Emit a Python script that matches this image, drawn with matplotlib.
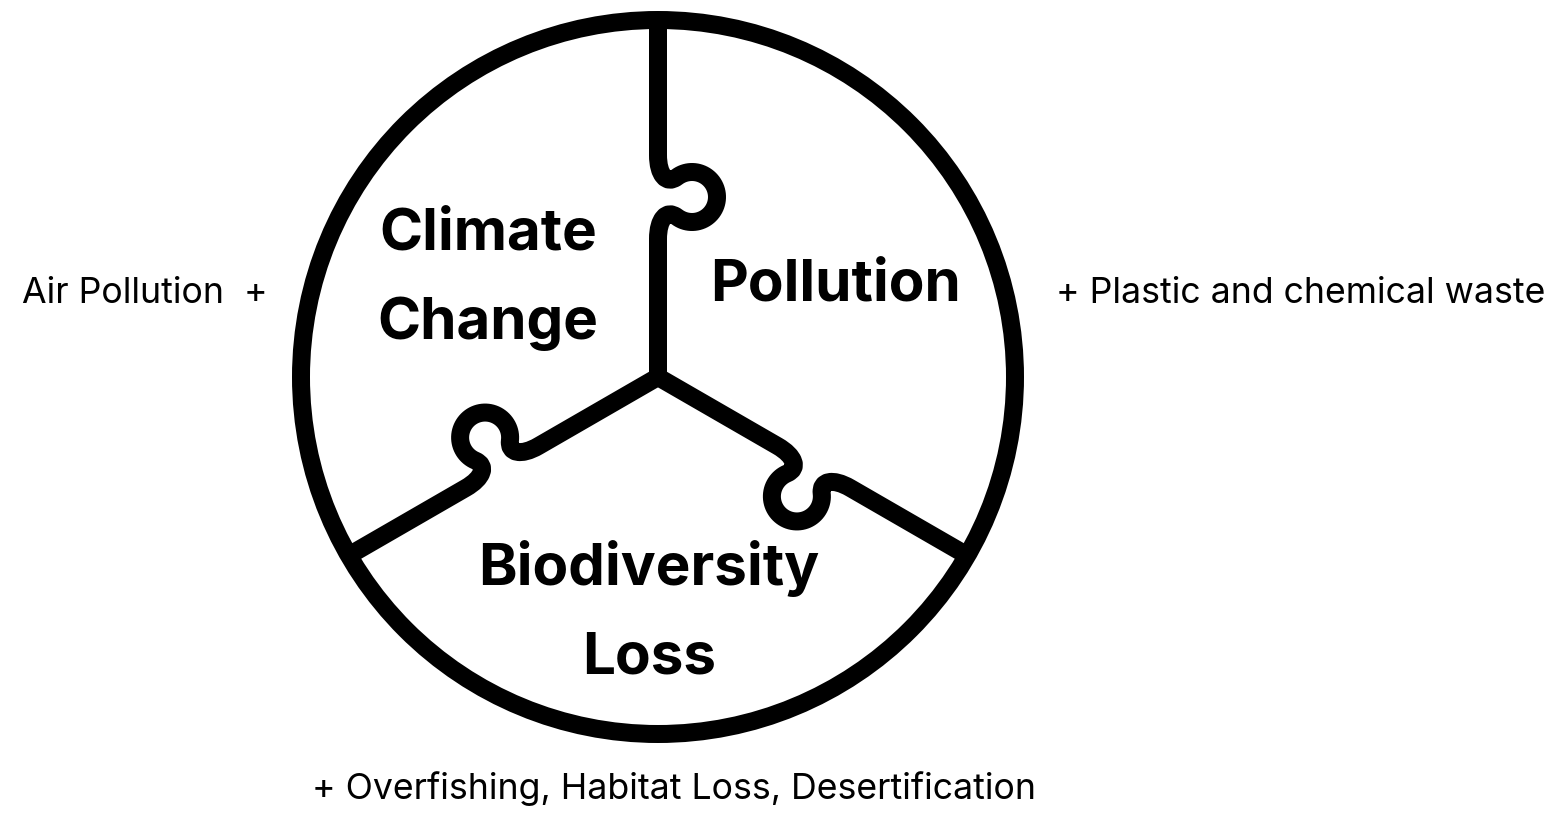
import numpy as np
import matplotlib.pyplot as plt
from matplotlib.path import Path
from matplotlib.patches import Circle, PathPatch

plt.rcParams['font.family'] = ['Inter', 'DejaVu Sans']

# puzzle pieces and what goes with them
piece_lines = [["Climate", "Change"], ["Pollution"], ["Biodiversity", "Loss"]]
side_notes = ["Air Pollution  +", "+ Plastic and chemical waste",
              "+ Overfishing, Habitat Loss, Desertification"]
divider_angles = [90, 210, 330]  # degrees, where the cuts run out from the centre

W, H = 1555, 817
cx, cy = 658, 440      # centre of the circle (y up)
R = 357                # radius
lw_px = 18
lw = lw_px * 72 / 100  # points

# knob geometry in local coords (u along the cut, v to the side)
uc, vc, r = 180, 34, 25
half = 20
vj = vc - np.sqrt(r**2 - half**2)


def cut_path(angle):
    a = np.deg2rad(angle)
    d = np.array([np.cos(a), np.sin(a)])
    p = np.array([d[1], -d[0]])
    c = np.array([cx, cy])

    def P(u, v):
        return c + u * d + v * p

    verts, codes = [], []
    verts.append(P(0, 0)); codes.append(Path.MOVETO)
    verts.append(P(uc - 42, 0)); codes.append(Path.LINETO)
    # into the neck
    j1 = np.array([uc - half, vj])
    rad = j1 - np.array([uc, vc])
    tang = np.array([rad[1], -rad[0]]) / r   # clockwise travel direction
    k = 13
    c2 = j1 - k * tang
    verts += [P(uc - 22, 0), P(*c2), P(*j1)]
    codes += [Path.CURVE4] * 3
    th0 = np.arctan2(rad[1], rad[0])
    j2 = np.array([uc + half, vj])
    rad2 = j2 - np.array([uc, vc])
    th1 = np.arctan2(rad2[1], rad2[0])
    if th1 > th0:
        th1 -= 2 * np.pi
    for t in np.linspace(th0, th1, 60)[1:]:
        verts.append(P(uc + r * np.cos(t), vc + r * np.sin(t)))
        codes.append(Path.LINETO)
    tang2 = np.array([rad2[1], -rad2[0]]) / r
    c3 = j2 + k * tang2
    verts += [P(*c3), P(uc + 22, 0), P(uc + 42, 0)]
    codes += [Path.CURVE4] * 3
    verts.append(P(R, 0)); codes.append(Path.LINETO)
    return Path(np.array(verts), codes)


fig = plt.figure(figsize=(W / 100, H / 100), dpi=100)
ax = fig.add_axes([0, 0, 1, 1])
ax.set_xlim(0, W)
ax.set_ylim(0, H)
ax.set_aspect('equal')
ax.axis('off')

ax.add_patch(Circle((cx, cy), R, fill=False, lw=lw, ec='black'))
for ang in divider_angles:
    ax.add_patch(PathPatch(cut_path(ang), fill=False, lw=lw, ec='black',
                           joinstyle='round', capstyle='butt'))

# piece labels
label_pos = [(488, [817 - 249, 817 - 339]), (836, [817 - 300]),
             (649, [817 - 585, 817 - 674])]
for lines, (x, ys) in zip(piece_lines, label_pos):
    for txt, y in zip(lines, ys):
        ax.text(x, y, txt, ha='center', va='baseline', fontsize=42,
                fontweight='bold', color='black')

note_pos = [(22, 817 - 303), (1056, 817 - 303), (312, 817 - 799)]
for txt, (x, y) in zip(side_notes, note_pos):
    ax.text(x, y, txt, ha='left', va='baseline', fontsize=25.7, color='black')

fig.savefig('out.png', dpi=100)
